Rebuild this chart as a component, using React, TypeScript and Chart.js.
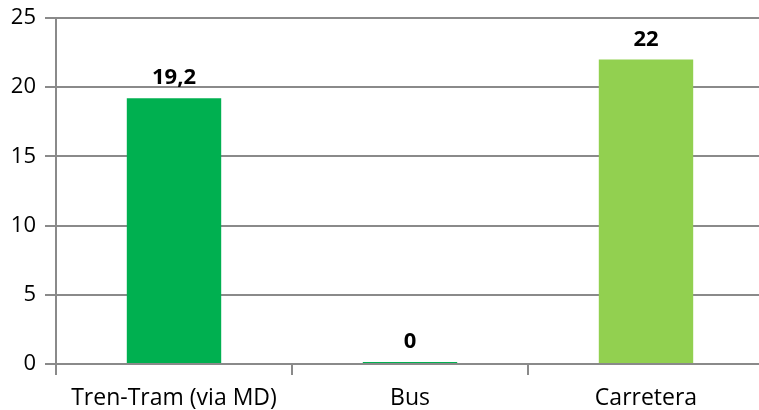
import React, { useEffect, useRef } from "react";
import { Chart, registerables } from "chart.js";

Chart.register(...registerables);

const categories = ["Tren-Tram (via MD)", "Bus", "Carretera"];
const values = [19.2, 0, 22];
const valueLabels = ["19,2", "0", "22"];
const barColors = ["#00B050", "#00B050", "#92D050"];
const yTicks = [0, 5, 10, 15, 20, 25];

const FONT = "'Open Sans'";

const dataLabelPlugin = {
  id: "dataLabels",
  afterDatasetsDraw(chart: any) {
    const ctx = chart.ctx;
    const meta = chart.getDatasetMeta(0);
    ctx.save();
    ctx.font = `bold 22px ${FONT}`;
    ctx.fillStyle = "#000";
    ctx.textAlign = "center";
    ctx.textBaseline = "alphabetic";
    meta.data.forEach((el: any, i: number) => {
      ctx.fillText(valueLabels[i], el.x, el.y - 14);
    });
    ctx.restore();
  },
};

export default function App() {
  const ref = useRef<HTMLCanvasElement>(null);
  useEffect(() => {
    const c = new Chart(ref.current!, {
      type: "bar",
      data: {
        labels: categories,
        datasets: [
          {
            data: values,
            backgroundColor: barColors,
            barPercentage: 0.4,
            categoryPercentage: 1,
            minBarLength: 2,
          },
        ],
      },
      options: {
        animation: false,
        responsive: false,
        layout: { padding: { top: 18, right: 0, left: 0, bottom: 0 } },
        plugins: { legend: { display: false }, tooltip: { enabled: false } },
        scales: {
          x: {
            offset: true,
            grid: {
              offset: true,
              drawOnChartArea: false,
              drawTicks: true,
              tickLength: 11,
              color: "#8a8a8a",
              lineWidth: 2,
            },
            border: { display: true, color: "#8a8a8a", width: 2 },
            ticks: {
              color: "#000",
              font: { family: FONT, size: 23 },
              padding: 10,
              maxRotation: 0,
            },
            afterFit(s: any) {
              s.height = 46;
            },
          },
          y: {
            min: 0,
            max: 25,
            afterBuildTicks(s: any) {
              s.ticks = yTicks.map((v) => ({ value: v }));
            },
            grid: {
              color: "#8a8a8a",
              lineWidth: 2,
              tickLength: 11,
            },
            border: { display: true, color: "#8a8a8a", width: 2 },
            ticks: {
              color: "#000",
              font: { family: FONT, size: 22 },
              padding: 9,
            },
            afterFit(s: any) {
              s.width = 56;
              s.paddingTop = 0;
              s.paddingBottom = 0;
            },
          },
        },
      },
      plugins: [dataLabelPlugin],
    });
    return () => c.destroy();
  }, []);
  return (
    <div
      style={{
        position: "fixed",
        left: 0,
        top: 0,
        width: 759,
        height: 410,
        overflow: "hidden",
        background: "#fff",
      }}
    >
      <canvas ref={ref} width={764} height={410} style={{ display: "block" }} />
    </div>
  );
}
